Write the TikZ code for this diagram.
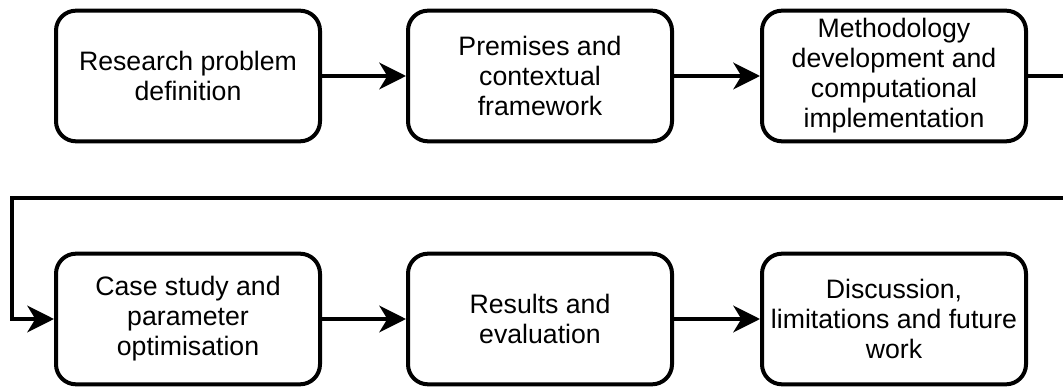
\documentclass[tikz,border=0pt]{standalone}
\usepackage{fontspec}
\setmainfont{Liberation Sans}
\usetikzlibrary{positioning,arrows.meta}
\tikzset{
  stage/.style={draw=black, line width=3pt, rounded corners=15pt, fill=white,
    minimum width=198pt, minimum height=98pt, align=center, inner sep=1pt,
    font=\fontsize{20}{22.5}\selectfont},
  flow/.style={draw=black, line width=3pt,
    -{Stealth[length=20pt, width=20pt, inset=6pt]}},
  link/.style={draw=black, line width=3pt}
}
\begin{document}
\begin{tikzpicture}[x=0.75pt, y=-0.75pt]
    \useasboundingbox (0,0) rectangle (1063,388);
    \node[stage] (define) at (188,76) {Research problem\\definition};
    \node[stage] (premise) at (540,76) {Premises and\\contextual\\framework};
    \node[stage] (method) at (894,76) {Methodology\\development and\\computational\\implementation};
    \node[stage] (casestudy) at (188,319) {Case study and\\parameter\\optimisation};
    \node[stage] (results) at (540,319) {Results and\\evaluation};
    \node[stage] (discuss) at (894,319) {Discussion,\\limitations and future\\work};
    %
    \coordinate (turnR) at (1080,198);
    \coordinate (turnL) at (12,198);
    \draw[flow] (define) -- (premise);
    \draw[flow] (premise) -- (method);
    \draw[flow] (method.east) -| (turnR) -- (turnL) |- (casestudy.west);
    \draw[flow] (casestudy) -- (results);
    \draw[flow] (results) -- (discuss);
\end{tikzpicture}
\end{document}
